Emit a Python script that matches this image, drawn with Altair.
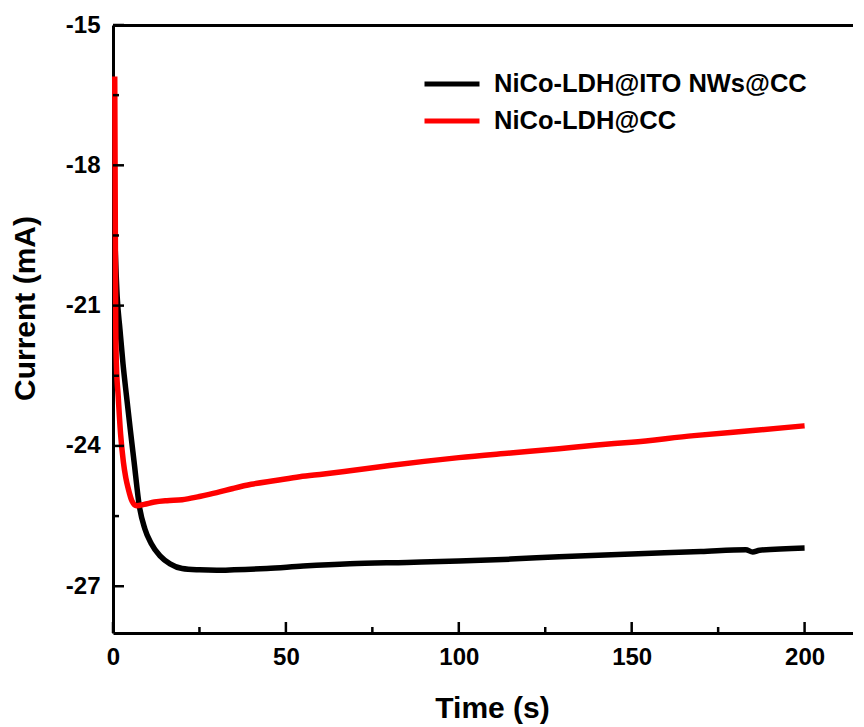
import altair as alt
import pandas as pd

S_ITO = "NiCo-LDH@ITO NWs@CC"
S_CC = "NiCo-LDH@CC"

# Black curve (NiCo-LDH@ITO NWs@CC)
t_ito = [0.5, 1.2, 2.0, 2.9, 3.9, 5.0, 6.1, 7.6, 9.2, 11.0, 13.6, 16.5, 20, 25, 30, 35, 44.5, 55,
         68.5, 85, 100, 115, 129, 150, 170, 183, 185, 187, 200]
v_ito = [-19.5, -20.8, -21.5, -22.25, -22.93, -23.65, -24.34, -25.28, -25.77, -26.08, -26.35, -26.52,
         -26.62, -26.65, -26.66, -26.65, -26.62, -26.57, -26.52, -26.49, -26.46, -26.42, -26.37, -26.31,
         -26.26, -26.22, -26.27, -26.23, -26.18]

# Red curve (NiCo-LDH@CC)
t_cc = [0.5, 0.65, 0.8, 1.0, 1.5, 2.2, 3.0, 3.7, 4.4, 5.5, 6.8, 9, 12, 15.6, 20, 25, 30, 34.7, 40,
        47, 54, 61, 68.5, 80, 90, 100, 115, 129, 140, 150, 168, 185, 200]
v_cc = [-16.1, -19.0, -21.5, -22.3, -22.93, -23.75, -24.34, -24.68, -24.91, -25.18, -25.28, -25.25,
        -25.2, -25.17, -25.15, -25.08, -25.0, -24.91, -24.82, -24.74, -24.66, -24.6, -24.53, -24.42,
        -24.33, -24.25, -24.15, -24.06, -23.98, -23.92, -23.78, -23.67, -23.57]

x_major = [0, 50, 100, 150, 200]
x_minor = [25, 75, 125, 175]
y_major = [-27, -24, -21, -18, -15]
y_minor = [-25.5, -22.5, -19.5, -16.5]
x_domain = [0, 214]
y_domain = [-28, -15]

W, H = 740, 608

df = pd.concat([
    pd.DataFrame({"t": t_ito, "v": v_ito, "series": S_ITO}),
    pd.DataFrame({"t": t_cc, "v": v_cc, "series": S_CC}),
], ignore_index=True)

FONT = "Liberation Sans"
lab_expr = "toString(datum.value)"

xs = alt.Scale(domain=x_domain, nice=False, zero=False)
ys = alt.Scale(domain=y_domain, nice=False, zero=False)

lines = alt.Chart(df).mark_line(strokeWidth=5.5, interpolate="monotone").encode(
    x=alt.X("t:Q", scale=xs, axis=alt.Axis(
        orient="bottom", values=x_major, ticks=False, tickSize=0, domain=True, grid=False,
        domainColor="black", domainWidth=3, labelFont=FONT, labelFontSize=24,
        labelFontWeight="bold", labelColor="black", labelPadding=12, labelExpr=lab_expr,
        title="Time (s)", titleFont=FONT, titleFontSize=30, titleFontWeight="bold",
        titleColor="black", titleX=379, titleY=84, titleBaseline="alphabetic",
        labelFlush=False, labelOverlap=False)),
    y=alt.Y("v:Q", scale=ys, axis=alt.Axis(
        orient="left", values=y_major, ticks=False, tickSize=0, domain=True, grid=False,
        domainColor="black", domainWidth=3, labelFont=FONT, labelFontSize=24,
        labelFontWeight="bold", labelColor="black", labelPadding=13, labelExpr=lab_expr,
        title="Current (mA)", titleFont=FONT, titleFontSize=30, titleFontWeight="bold",
        titleColor="black", titleX=-88, titleY=283, titleBaseline="middle",
        titleAngle=270, labelFlush=False, labelOverlap=False)),
    color=alt.Color("series:N", sort=[S_ITO, S_CC],
                    scale=alt.Scale(domain=[S_ITO, S_CC], range=["#000000", "#ff0000"]),
                    legend=alt.Legend(
                        orient="none", legendX=309, legendY=48, title=None,
                        symbolType="stroke", symbolSize=3025, symbolStrokeWidth=5,
                        labelFont=FONT, labelFontSize=25.5, labelFontWeight="bold",
                        labelColor="black", labelLimit=500, labelOffset=12,
                        clipHeight=22, rowPadding=11, padding=0)),
    detail="series:N",
    order="t:Q",
)

def x_ticks(vals, size):
    return alt.Chart(pd.DataFrame({"p": vals})).mark_rule(
        color="black", strokeWidth=2.5).encode(
        x=alt.X("p:Q", scale=xs, axis=None),
        y=alt.value(H), y2=alt.value(H - size))

def y_ticks(vals, size):
    return alt.Chart(pd.DataFrame({"p": vals})).mark_rule(
        color="black", strokeWidth=2.5).encode(
        y=alt.Y("p:Q", scale=ys, axis=None),
        x=alt.value(0), x2=alt.value(size))

top = alt.Chart(df).mark_line(strokeOpacity=0).encode(
    x=alt.X("t:Q", scale=xs, axis=alt.Axis(
        orient="top", ticks=False, labels=False, domain=True, domainColor="black",
        domainWidth=3, grid=False, title=None)),
    y=alt.Y("v:Q", scale=ys, axis=None),
    detail="series:N",
)

chart = alt.layer(
    lines, x_ticks(x_major, 11), x_ticks(x_minor, 6), y_ticks(y_major, 11),
    y_ticks(y_minor, 6), top
).resolve_axis(x="independent", y="independent").properties(
    width=W, height=H,
    autosize=alt.AutoSizeParams(type="none"),
    padding={"left": 105, "top": 17, "right": 0, "bottom": 95},
).configure_view(stroke=None).configure_axis(grid=False).configure(background="white")

chart.save("out.html", embed_options={"renderer": "svg", "actions": False})
